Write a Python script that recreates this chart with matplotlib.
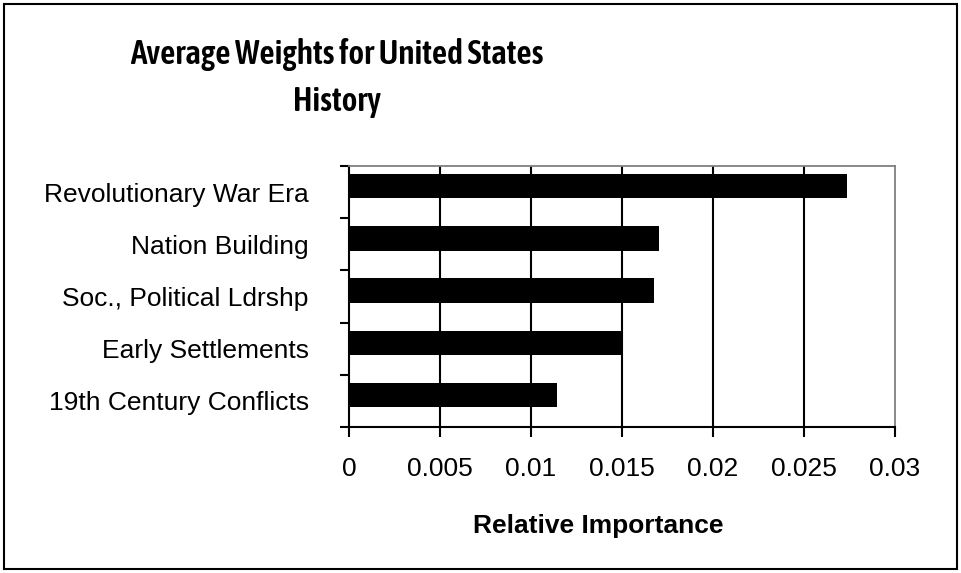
import numpy as np
import matplotlib
matplotlib.use('Agg')
import matplotlib.pyplot as plt
from matplotlib.patches import Rectangle

# данные с картинки
categories = ['Revolutionary War Era', 'Nation Building', 'Soc., Political Ldrshp',
              'Early Settlements', '19th Century Conflicts']
weights = [0.02741, 0.01706, 0.01679, 0.01502, 0.01145]
x_ticks = [0, 0.005, 0.01, 0.015, 0.02, 0.025, 0.03]
x_tick_labels = ['0', '0.005', '0.01', '0.015', '0.02', '0.025', '0.03']
title_lines = ['Average Weights for United States', 'History']
x_label = 'Relative Importance'

plt.rcParams['font.family'] = ['Liberation Sans', 'DejaVu Sans']

W, H = 961, 573
fig = plt.figure(figsize=(W / 100, H / 100), dpi=100)
ax = fig.add_axes([349 / W, 1 - 427 / H, (894.5 - 349) / W, (427 - 166) / H])

# позиции категорий сверху вниз
n = len(categories)
pos = np.arange(n)[::-1]
ax.barh(pos + 0.113, weights, height=0.47, color='black', zorder=3)

ax.set_xlim(0, 0.03)
ax.set_ylim(-0.5, n - 0.5)

# ось x
ax.set_xticks(x_ticks)
ax.set_xticklabels(x_tick_labels, fontsize=19)
ax.tick_params(axis='x', direction='out', length=7.5, width=1.5, pad=14, color='black')
ax.xaxis.grid(True, color='black', lw=1.5, zorder=1)
ax.get_xgridlines()[0].set_visible(False)
ax.get_xgridlines()[-1].set_visible(False)
ax.set_axisbelow(True)

# ось y: засечки на границах категорий, подписи по центру
ax.set_yticks(np.arange(-0.5, n, 1.0))
ax.set_yticklabels([])
ax.set_yticks(pos, minor=True)
ax.set_yticklabels(categories, minor=True, fontsize=19)
ax.tick_params(axis='y', which='major', direction='out', length=6.5, width=1.5)
ax.tick_params(axis='y', which='minor', length=0, pad=29)

for s in ['left', 'bottom']:
    ax.spines[s].set_color('black')
    ax.spines[s].set_linewidth(1.5)
for s in ['top', 'right']:
    ax.spines[s].set_color('#808080')
    ax.spines[s].set_linewidth(1.3)

# заголовок узким жирным шрифтом, две строки по центру
for line, base in zip(title_lines, [64, 111]):
    fig.text(337 / W, 1 - base / H, line, ha='center', va='baseline',
             fontsize=24, fontweight=600,
             family=['Asap Condensed', 'Liberation Sans'])
fig.text(598 / W, 1 - 533 / H, x_label, ha='center', va='baseline',
         fontsize=19, fontweight='bold')

# рамка вокруг всей картинки
fig.patches.append(Rectangle((4 / W, 4 / H), (957 - 4) / W, (569 - 4) / H,
                             transform=fig.transFigure, fill=False, lw=1.5,
                             ec='black'))

fig.savefig('out.png', dpi=100)
